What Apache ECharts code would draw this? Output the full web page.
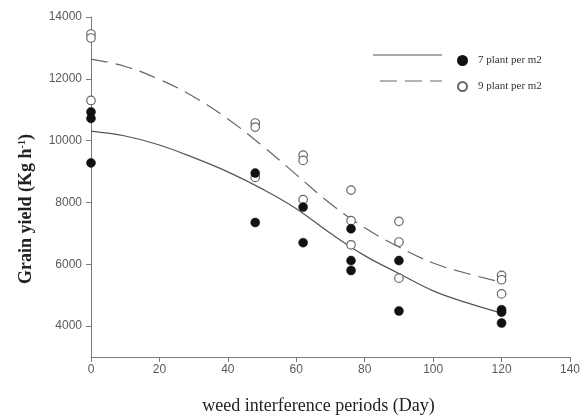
<!DOCTYPE html>
<html>
<head>
<meta charset="utf-8">
<script src="https://cdn.jsdelivr.net/npm/echarts@6/dist/echarts.min.js"></script>
<style>html,body{margin:0;padding:0;background:#fff}#c{width:588px;height:420px}</style>
</head>
<body>
<div id="c"></div>
<script>
// Observed points: [day, grain yield]
var plant7 = [[0,10930],[0,10720],[0,9280],[48,8950],[48,7350],[62,7850],[62,6700],[76,7150],[76,6120],[76,5800],[90,6120],[90,4490],[120,4530],[120,4450],[120,4100]];
var plant9 = [[0,13450],[0,13320],[0,11300],[48,10570],[48,10440],[48,8810],[62,9530],[62,9360],[62,8090],[76,8400],[76,7410],[76,6630],[90,7390],[90,6720],[90,5550],[120,5640],[120,5500],[120,5040]];
// Fitted curves
var curveDays = [0,10,20,30,40,50,60,70,80,90,100,110,120];
var fit7 = [10310,10150,9860,9450,8990,8440,7800,7000,6280,5700,5140,4750,4420];
var fit9 = [12640,12400,11980,11420,10700,9840,8900,7960,7180,6560,6040,5700,5420];
var xTicks = [0,20,40,60,80,100,120,140];
var yTicks = [4000,6000,8000,10000,12000,14000];
var seriesNames = ['7 plant per m2','9 plant per m2'];

function pairs(xs, ys){ return xs.map(function(x,i){ return [x, ys[i]]; }); }

var chart = echarts.init(document.getElementById('c'), null, {renderer:'canvas'});
var axisColor = '#7a7a7a';
var labelStyle = {color:'#5a5a5a', fontFamily:'Liberation Sans, Arial, sans-serif', fontSize:12};
chart.setOption({
  animation:false,
  backgroundColor:'#fff',
  grid:{left:91, right:18, top:17, bottom:63, outerBoundsMode:'none'},
  xAxis:{
    type:'value', min:0, max:140, interval:20,
    splitLine:{show:false},
    axisLine:{lineStyle:{color:axisColor, width:1}},
    axisTick:{length:5, lineStyle:{color:axisColor}},
    axisLabel:Object.assign({margin:7, customValues:xTicks, formatter:function(v){return String(v);}}, labelStyle),
    name:'weed interference periods (Day)', nameLocation:'middle', nameGap:40,
    nameTextStyle:{fontFamily:'Liberation Serif, Times New Roman, serif', fontSize:18, color:'#222', padding:[0,24,0,0]}
  },
  yAxis:{
    type:'value', min:3000, max:14000, interval:1000,
    splitLine:{show:false},
    axisLine:{show:true, lineStyle:{color:axisColor, width:1}},
    axisTick:{show:true, length:5, customValues:yTicks, lineStyle:{color:axisColor}},
    axisLabel:Object.assign({margin:9, customValues:yTicks, formatter:function(v){return String(v);}}, labelStyle),
    name:'Grain yield (Kg h{sup|-1})', nameLocation:'middle', nameGap:56,
    nameTextStyle:{fontFamily:'Liberation Serif, Times New Roman, serif', fontSize:18, fontWeight:'bold', color:'#222', padding:[0,44,0,0],
      rich:{sup:{fontFamily:'Liberation Serif, serif', fontSize:10, fontWeight:'bold', color:'#222', verticalAlign:'top', padding:[0,0,8,0]}}}
  },
  legend:{
    data:seriesNames, orient:'vertical', left:452, top:50, itemGap:15,
    icon:'circle', itemWidth:9, itemHeight:9,
    textStyle:{fontFamily:'Liberation Serif, Times New Roman, serif', fontSize:11, color:'#333', padding:[0,0,0,6]}
  },
  graphic:[
    {type:'line', shape:{x1:373, y1:55, x2:442, y2:55}, style:{stroke:'#555', lineWidth:1.2}},
    {type:'line', shape:{x1:380, y1:81, x2:442, y2:81}, style:{stroke:'#666', lineWidth:1.2, lineDash:[17,8]}}
  ],
  series:[
    {type:'line', name:'fit7', data:pairs(curveDays, fit7), smooth:0.4, showSymbol:false, z:2,
      lineStyle:{color:'#555', width:1.2}},
    {type:'line', name:'fit9', data:pairs(curveDays, fit9), smooth:0.4, showSymbol:false, z:2,
      lineStyle:{color:'#666', width:1.2, type:[17,8]}},
    {type:'scatter', name:seriesNames[0], data:plant7, symbol:'circle', symbolSize:9, z:4,
      itemStyle:{color:'#111', borderColor:'#111', borderWidth:0.5, opacity:1}},
    {type:'scatter', name:seriesNames[1], data:plant9, symbol:'circle', symbolSize:8.5, z:3,
      itemStyle:{color:'#fff', borderColor:'#666', borderWidth:1.2, opacity:1}}
  ]
});
</script>
</body>
</html>
